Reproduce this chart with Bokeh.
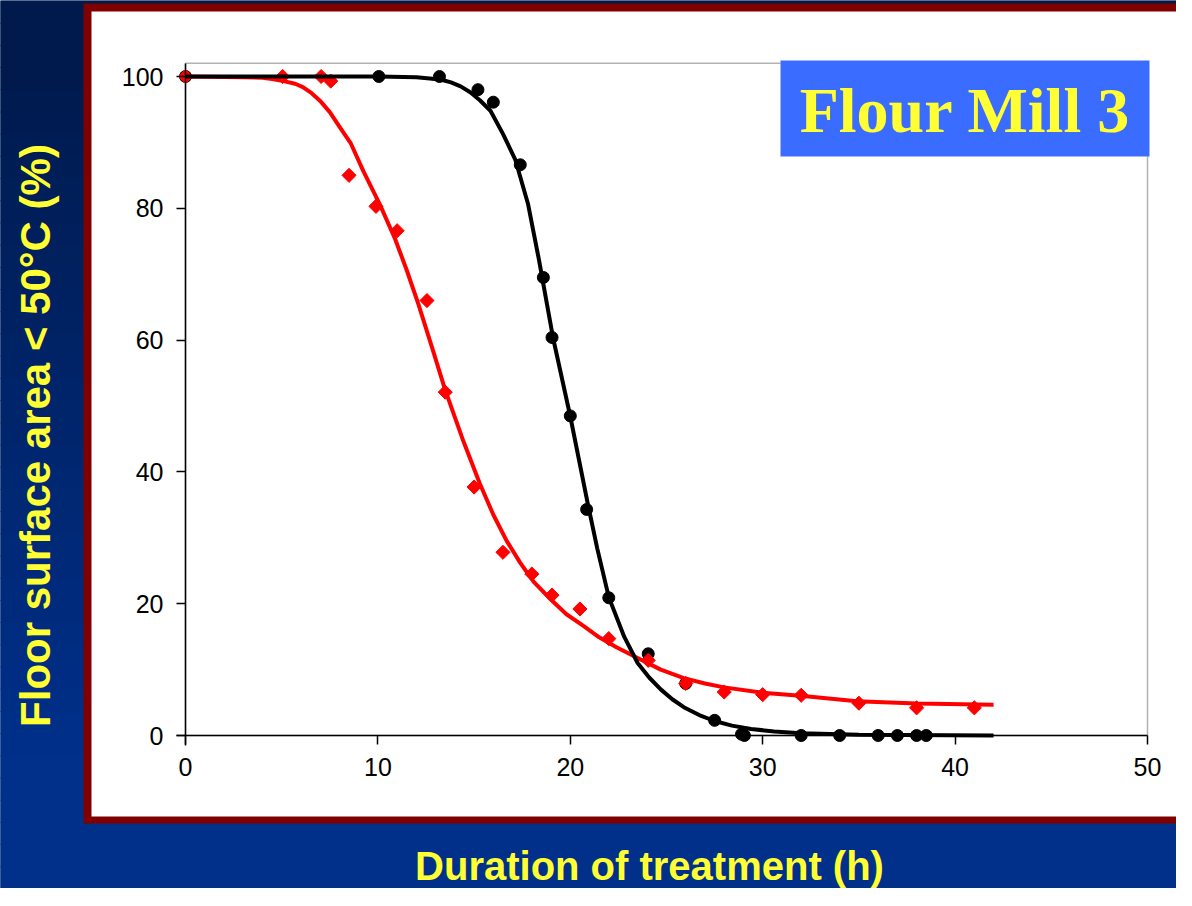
import numpy as np
from bokeh.plotting import figure
from bokeh.models import Range1d, FixedTicker, BoxAnnotation, Label
from bokeh.embed import file_html
from bokeh.resources import INLINE

# ---------------- data ----------------
x_ticks = [0, 10, 20, 30, 40, 50]
x_tick_labels = ["0", "10", "20", "30", "40", "50"]
y_ticks = [0, 20, 40, 60, 80, 100]
y_tick_labels = ["0", "20", "40", "60", "80", "100"]

# measured points, black series (circles)
black_x = [0, 10.05, 13.2, 15.2, 16.0, 17.4, 18.6, 19.05, 20.0, 20.85, 22.0, 24.05, 26.0,
           27.5, 28.9, 29.05, 32.0, 34.0, 36.0, 37.0, 38.0, 38.5]
black_y = [100, 100, 100, 98.0, 96.1, 86.6, 69.5, 60.4, 48.5, 34.3, 20.9, 12.4, 7.9,
           2.3, 0.2, 0.0, 0.0, 0.0, 0.0, 0.0, 0.0, 0.0]

# measured points, red series (diamonds)
red_x = [0, 5.05, 7.05, 7.55, 8.5, 9.9, 11.0, 12.55, 13.5, 15.0, 16.5, 18.0, 19.05,
         20.5, 22.0, 24.05, 26.0, 28.0, 30.0, 32.0, 35.0, 38.0, 41.0]
red_y = [100, 100, 100, 99.3, 85.0, 80.3, 76.6, 66.0, 52.1, 37.7, 27.8, 24.5, 21.3,
         19.2, 14.7, 11.4, 7.9, 6.6, 6.2, 6.1, 4.9, 4.2, 4.2]

# fitted curves
black_curve_x = [0, 5, 10, 12.0, 12.7, 13.3, 13.8, 14.3, 14.8, 15.3, 15.85, 16.5, 17.15, 17.8,
                 18.35, 19.1, 20.0, 20.9, 21.4, 22.0, 22.8, 23.5, 24.1, 24.7, 25.3, 25.9, 26.7,
                 27.5, 28.4, 29.4, 30.6, 32.0, 35.0, 42.0]
black_curve_y = [100, 100, 100, 99.9, 99.7, 99.5, 99.1, 98.5, 97.6, 96.4, 94.8, 91.3, 87.3, 80.7,
                 72.5, 60.4, 48.4, 35.3, 28.4, 21.0, 15.0, 11.0, 8.8, 7.0, 5.5, 4.3, 3.1,
                 2.2, 1.5, 1.0, 0.6, 0.35, 0.1, 0.0]

red_curve_x = [0, 3.0, 4.0, 4.5, 5.1, 5.7, 6.1, 6.5, 7.0, 7.5, 8.0, 8.6, 9.25, 10.1, 10.9,
               11.5, 12.1, 12.8, 13.5, 14.4, 15.3, 16.0, 16.7, 17.4, 18.1, 19.0, 19.8, 20.7,
               21.5, 22.4, 23.6, 24.7, 25.9, 27.0, 28.0, 30.0, 32.1, 34.9, 38.0, 42.0]
red_curve_y = [100, 99.9, 99.8, 99.6, 99.3, 98.9, 98.4, 97.6, 96.3, 94.6, 92.4, 89.8, 85.6,
               80.6, 75.3, 70.6, 65.5, 59.0, 52.4, 45.0, 38.2, 33.5, 29.5, 26.2, 23.3, 20.6,
               18.4, 16.6, 14.9, 13.4, 11.6, 10.0, 8.7, 7.9, 7.3, 6.5, 6.0, 5.2, 4.85, 4.66]

title_text = "Flour Mill 3"
x_label = "Duration of treatment (h)"
y_label = "Floor surface area < 50\u00b0C (%)"

# ---------------- layout helpers (canvas pixels -> data) ----------------
W, H = 1176, 888
X0_PX, X_SCALE = 185.0, 19.24
Y0_PX, Y_SCALE = 735.0, 6.59


def dx(px):
    return (px - X0_PX) / X_SCALE


def dy(py):
    return (Y0_PX - py) / Y_SCALE


NAVY_TOP = (0, 26, 78)
NAVY_BOT = (0, 48, 138)

p = figure(width=W, height=H, output_backend="svg", toolbar_location=None,
           x_range=Range1d(dx(0), dx(W)), y_range=Range1d(dy(H), dy(0)),
           min_border=0, title=None)
p.min_border_left = p.min_border_right = p.min_border_top = p.min_border_bottom = 0
p.outline_line_color = None
p.background_fill_color = "#001a4e"
p.border_fill_color = "#001a4e"
p.xgrid.visible = False
p.ygrid.visible = False

# background gradient bands
N = 40
g0, g1 = 80.0, 760.0
for i in range(N):
    ya = i * H / N
    yb = (i + 1) * H / N + 1
    t = min(max(((ya + yb) / 2 - g0) / (g1 - g0), 0), 1)
    c = tuple(int(round(a + (b - a) * t)) for a, b in zip(NAVY_TOP, NAVY_BOT))
    p.add_layout(BoxAnnotation(left=dx(-10), right=dx(1300), top=dy(ya), bottom=dy(yb),
                               fill_color="#%02x%02x%02x" % c, fill_alpha=1,
                               line_color=None, level="underlay"))

# panel: dark red border, white inside
p.add_layout(BoxAnnotation(left=dx(83), right=dx(1300), top=dy(3), bottom=dy(823),
                           fill_color="#800000", fill_alpha=1, line_color=None, level="underlay"))
p.add_layout(BoxAnnotation(left=dx(91), right=dx(1300), top=dy(11), bottom=dy(816),
                           fill_color="white", fill_alpha=1, line_color=None, level="underlay"))
# plot frame (top / right edges)
p.add_layout(BoxAnnotation(left=0, right=50, bottom=0, top=102, fill_color=None,
                           line_color="black", line_width=1.5, level="underlay"))

# axes
for ax in (p.xaxis, p.yaxis):
    ax.fixed_location = 0
    ax.axis_line_width = 1.5
    ax.axis_line_color = "black"
    ax.major_tick_line_width = 1.5
    ax.major_tick_line_color = "black"
    ax.major_tick_out = 9
    ax.major_tick_in = 0
    ax.minor_tick_out = 0
    ax.minor_tick_in = 0
    ax.major_label_text_font = "Liberation Sans"
    ax.major_label_text_font_size = "25px"
    ax.major_label_text_color = "black"
    ax.major_label_standoff = 13
    ax.axis_label = None

p.xaxis.ticker = FixedTicker(ticks=x_ticks)
p.xaxis.major_label_overrides = {t: s for t, s in zip(x_ticks, x_tick_labels)}
p.yaxis.ticker = FixedTicker(ticks=y_ticks)
p.yaxis.major_label_overrides = {t: s for t, s in zip(y_ticks, y_tick_labels)}
p.xaxis.bounds = (dx(176), 50)
p.yaxis.bounds = (dy(745), 102)

# data
p.scatter(black_x, black_y, marker="circle", size=12, color="black")
p.scatter(red_x, red_y, marker="square", angle=np.pi / 4, size=10, color="#ff0000")
p.line(red_curve_x, red_curve_y, line_width=4, color="#ff0000", line_join="round")
p.line(black_curve_x, black_curve_y, line_width=4, color="black", line_join="round")

# title box
p.add_layout(BoxAnnotation(left=dx(780), right=dx(1149), top=dy(60), bottom=dy(156),
                           fill_color="#3a6cff", fill_alpha=1, line_color="#a8bcff",
                           line_width=1, level="annotation"))
p.add_layout(Label(x=dx(964.5), y=dy(110), text=title_text, text_align="center",
                   text_baseline="alphabetic", text_font="Liberation Serif",
                   text_font_style="bold", text_font_size="64px", text_color="#ffff33"))

# axis labels
p.add_layout(Label(x=dx(649), y=dy(865), text=x_label, text_align="center",
                   text_baseline="alphabetic", text_font="Liberation Sans",
                   text_font_style="bold", text_font_size="40px", text_color="#ffff33"))
p.add_layout(Label(x=dx(35), y=dy(435), text=y_label, angle=np.pi / 2, text_align="center",
                   text_baseline="middle", text_font="Liberation Sans",
                   text_font_style="bold", text_font_size="42px", text_color="#ffff33"))

open("out.html", "w").write(file_html(p, INLINE))
